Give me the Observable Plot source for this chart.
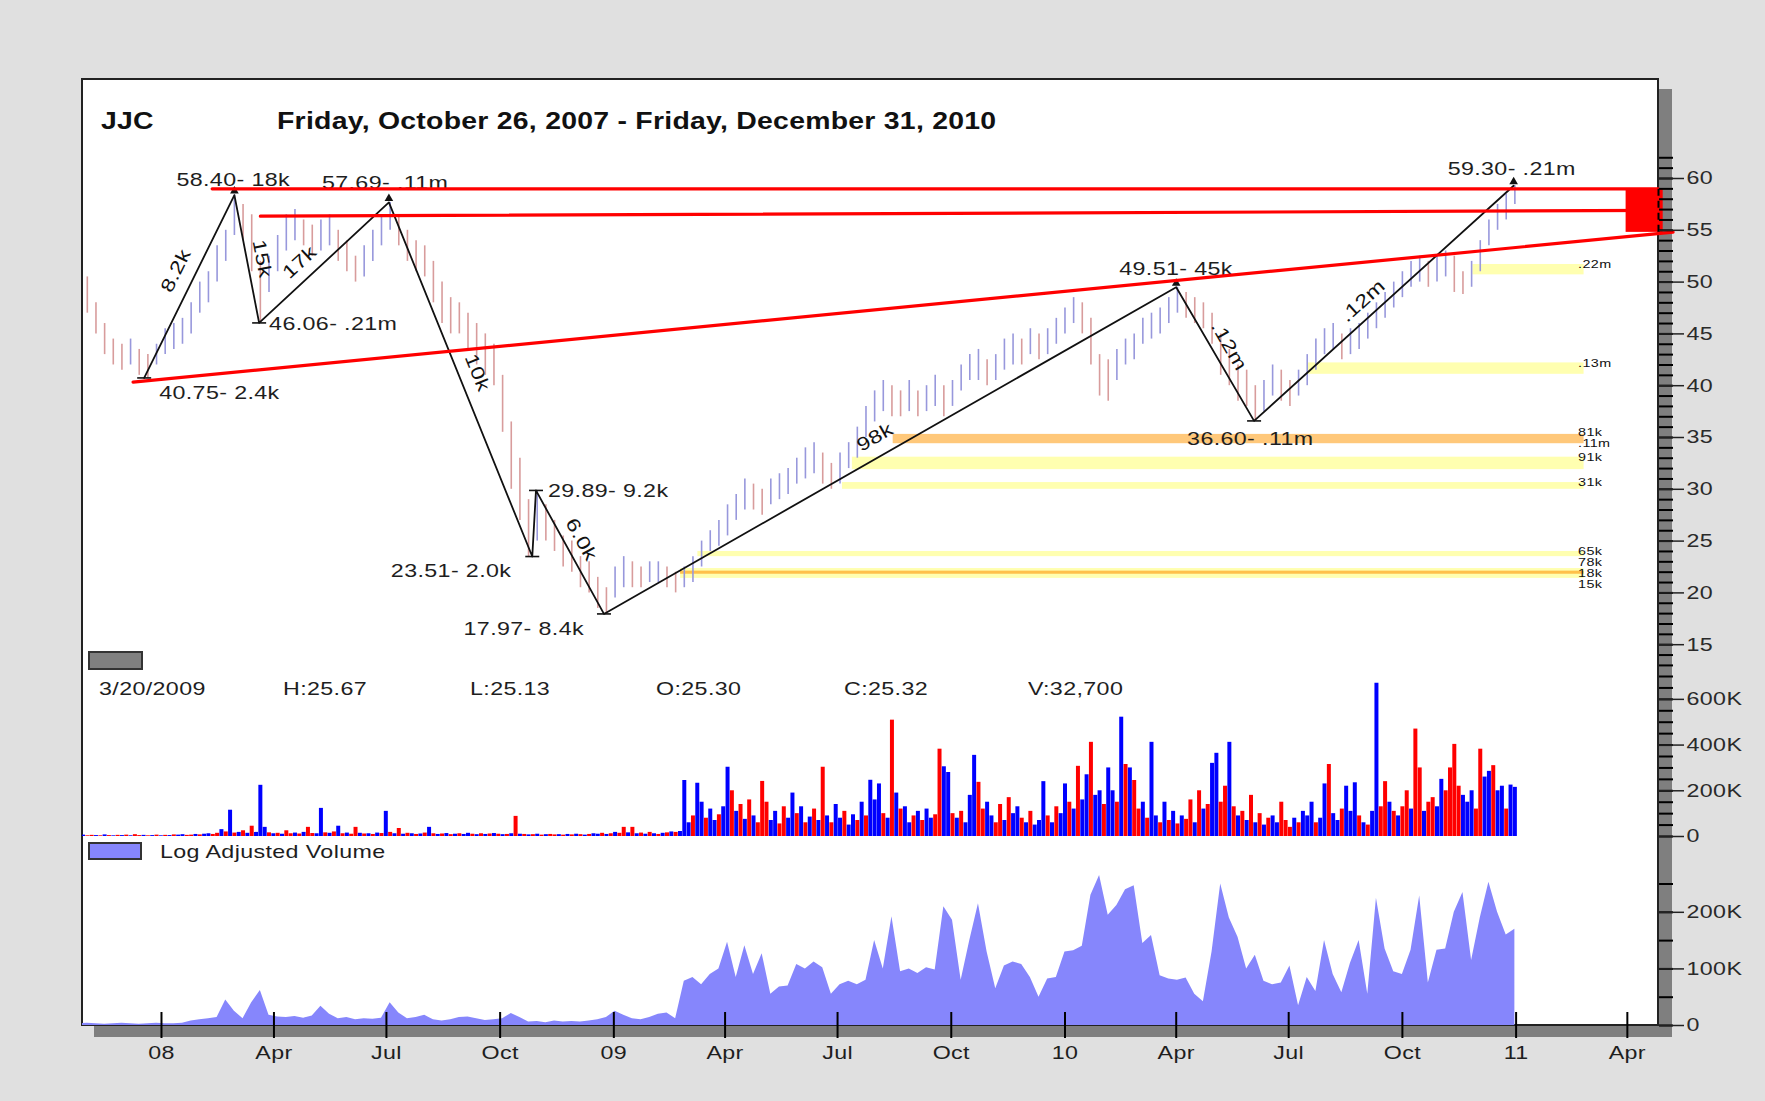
<!DOCTYPE html>
<html>
<head>
<meta charset="utf-8">
<script src="https://cdn.jsdelivr.net/npm/d3@7"></script>
<script src="https://cdn.jsdelivr.net/npm/@observablehq/plot@0.6"></script>
<style>
html,body{margin:0;padding:0;background:#e0e0e0;}
#wrap{position:relative;width:1765px;height:1101px;overflow:hidden;background:#e0e0e0;font-family:"Liberation Sans",Arial,sans-serif;}
#panel{position:absolute;left:81px;top:78px;width:1578px;height:948px;box-sizing:border-box;background:#fff;border:2px solid #222;box-shadow:13px 11px 0 #7f7f7f;}
.layer{position:absolute;left:0;}
.txt{position:absolute;white-space:nowrap;line-height:1;color:#1e1e1e;font-size:18.6px;letter-spacing:0.3px;transform:scaleX(1.25);transform-origin:0 50%;}
.bold{font-weight:bold;font-size:23.3px;letter-spacing:0.2px;color:#111;transform:scaleX(1.22);}
.box{position:absolute;box-sizing:border-box;border:2px solid #333;}
</style>
</head>
<body>
<div id="wrap">
  <div id="panel"></div>
  <div id="l1" class="layer" style="top:79px"></div>
  <div id="l2" class="layer" style="top:676px"></div>
  <div id="l3" class="layer" style="top:840px"></div>
</div>
<script>
// ---------------- DATA ----------------
const symbol = "JJC";
const titleText = "Friday, October 26, 2007 - Friday, December 31, 2010";

// weekly price range (weeks starting Fri Oct 26, 2007)
const weekHigh = [
51,50.5,48,46,44.5,44,44.5,43.5,43,44,
45.5,46,46.5,48,50,51,53.5,55,58.4,57.5,
56.5,52,52.5,54.5,56.5,57,56,55.5,56,56.5,
55,54,52.5,53.5,55,56.5,57.69,56.5,55,54,
53.5,52,50,48.5,48,47,46,45,44,41,
36.5,33,29,29.89,28.5,27,25.5,25,23.5,23,
21.5,20.5,22.5,23.5,23,22.5,23,23,22.5,22,
22.5,23.5,25,26,27,28.5,29.5,31,30.5,30,
31,31.5,32,33,34,34.5,33.5,32.5,33.5,34.5,
36,38,39.5,40.5,40,39.5,40.5,39.5,40,41,
40,40.5,42,43,43.5,42.5,43,44.5,45,44.5,
45.5,45,45.5,46.5,47.5,48.5,48,46.5,43,42.5,
43.5,44.5,45,46.5,47,47.5,48.5,49.51,49,48.5,
48,47,45,43.5,42,41.5,40,40.5,42,41.5,
40.5,41.5,43,44.5,45.5,46,45,45.5,46,47,
48,49,50,51,52,52.5,52,52.5,53,52.5,
51,52,54,56,57.5,58.5,59.3];
const weekLow = [
48.5,47,45,43,42,41.5,42,41,40.75,42,
43,43.5,44,45,47,48,50,52,54.5,54,
51,46.06,49,51,53,54,53.5,52.5,53,53.5,
52,51,50,50.5,52,53.5,55,53.5,52,51,
50.5,48,46,45,45,43.5,42,41,40,35.5,
30,27,23.51,25,25,24,22.5,22,20.5,20,
18.5,17.97,19.5,20.5,20.5,20.5,21,21,20.5,20,
20.5,21,22.5,24,24.5,25.5,27,28,28,27.5,
28.5,29,29.5,30.5,31,31.5,30.5,30,30.5,32,
33,35,36.5,37.5,37,37,37.5,37,37.5,38,
37,38,39.5,40.5,40.5,40,40.5,41.5,42,42,
43,42.5,43,44,45,46,45,42,39,38.5,
40.5,42,42.5,44,44.5,45,46,47,46.5,46,
45.5,44,41,40,38.5,38,36.6,37.5,39,38.5,
38,39,40,41.5,43,43.5,42.5,43,43.5,44.5,
45.5,46.5,47.5,48.5,49.5,50,49.5,50,50.5,49,
48.8,49.5,51,53.5,55,56,57.5];

// volume (thousands), two samples per week
const volK = [
4,6,3,5,4,3,7,4,3,5, 4,6,3,8,4,5,3,4,6,3, 5,4,7,6,8,5,6,9,7,10, 12,9,14,30,20,115,15,18,25,14,
45,18,224,40,16,12,14,10,25,12, 15,11,18,40,13,12,123,16,14,20, 45,12,15,10,40,14,11,12,9,15, 13,110,18,12,35,10,14,12,9,11,
15,40,12,9,11,13,8,10,12,9, 14,10,8,12,9,11,13,10,8,9, 12,88,10,9,7,8,10,6,8,9, 7,8,6,9,7,10,8,6,9,12,
10,14,9,12,18,14,40,16,40,12, 15,10,18,12,9,14,16,20,18,22, 245,60,90,233,150,80,120,70,95,130, 303,200,110,140,75,160,90,60,241,150,
70,110,55,130,80,190,100,130,60,85, 120,70,303,90,60,140,80,110,50,95, 70,150,90,246,160,230,100,80,509,190, 120,130,60,90,110,70,120,80,95,382,
305,280,100,80,110,60,180,355,237,120, 150,90,60,140,70,170,100,130,80,60, 110,50,70,240,90,60,130,100,230,150, 120,307,160,270,412,180,200,140,300,200,
150,522,315,300,245,120,150,80,412,90, 60,150,70,110,55,90,75,160,60,200, 120,140,320,364,150,220,412,130,90,110, 70,180,60,100,50,80,90,60,150,70,
40,80,60,110,90,150,60,80,230,315, 100,70,120,220,110,235,90,60,50,110, 670,130,240,150,110,90,130,200,120,470, 300,110,150,170,130,250,200,300,403,220,
180,150,200,120,382,260,285,310,200,220, 120,225,215];
const volDir = (
"rbrrbrbrbr"+"brbrrbrbrb"+"rbrbbrrbrb"+"brrbrbrbrb"+"rbbbrbrbrr"+"brbrrbbrbr"+"brbrrbrbrb"+"rbrbrbrbrb"+
"rbrbrbrbrb"+"brbrbrbrbr"+"brbrbrbrbr"+"rbrbrbrbrb"+"brbrbrrbrb"+"rbrbrbrbrb"+"bbrbbrbbrb"+"brbrbrbrrr"+
"bbrrbbrbrb"+"rbrbrbbrbb"+"rbrbbbrbrb"+"rbbrbrbbrr"+"bbrbrbbbrr"+"bbrrbrbbrb"+"rbbbrbrbbr"+"brbbrbbrbb"+
"rbrbrrbrbb"+"rbrbrbrrbr"+"brbbrrbrbr"+"brbrbrbbrr"+"rbrbbbrbbr"+"bbrbbbrbrb"+"brrbrbrrbr"+"rbrrbbrrrr"+
"bbbrrbbrbb"+"rbb").split("");

// log adjusted volume (thousands), weekly
const logVolK = [
3,4,3,2,3,4,3,2,3,4, 3,3,4,8,10,12,14,45,25,12, 40,62,18,15,14,16,13,17,34,20, 12,14,10,12,11,13,40,22,12,14,
18,10,8,10,14,15,12,9,10,12, 21,14,6,7,5,8,6,7,6,8, 10,14,25,18,12,10,14,20,22,12, 78,85,72,90,100,147,85,141,90,127,
55,68,70,108,100,112,102,55,72,78, 72,80,150,100,192,95,100,92,102,98, 210,186,80,150,215,130,65,105,112,108, 85,50,82,85,130,132,140,230,265,195,
212,240,247,145,159,88,82,80,84,55, 42,130,250,190,156,100,124,78,72,75, 105,35,85,60,150,90,58,110,150,55, 225,135,95,90,133,229,75,133,135,200,
235,115,190,253,200,160,170];

// zigzag pivots
const pivotDates = ["2007-12-18","2008-02-29","2008-03-20","2008-07-03","2008-10-27","2008-10-30","2008-12-24","2010-04-01","2010-06-03","2010-12-30"];
const pivotPrices = [40.75,58.40,46.06,57.69,23.51,29.89,17.97,49.51,36.60,59.30];
const pivotVols = ["2.4k","18k",".21m",".11m","2.0k","9.2k","8.4k","45k",".11m",".21m"];
const segVols = ["8.2k","15k","17k","10k","","6.0k","98k",".12m",".12m"];

// red trend / resistance lines: [start date, price, end date, price]
const redLines = [
  ["2008-02-11",59.0,"2011-04-26",59.0],
  ["2008-03-21",56.36,"2011-04-26",56.92],
  ["2007-12-09",40.34,"2011-05-08",54.82]
];
const zone = ["2011-03-31","2011-04-30",54.8,59.0];

// support bands: start date, low, high, strength
const bandStart = ["2010-11-27","2010-07-17","2009-08-15","2009-07-13","2009-07-05","2009-03-10","2009-02-24","2009-02-24"];
const bandLow   = [50.7,41.1,34.4,31.9,30.0,23.5,21.4,21.8];
const bandHigh  = [51.7,42.2,35.3,33.1,30.65,24.0,22.35,22.1];
const bandKind  = ["weak","weak","strong","weak","weak","weak","weak","core"];
const bandEnd = "2011-02-25";
const bandLabels = [".22m",".13m","81k",".11m","91k","31k","65k","78k","18k","15k"];
const bandLabelPrice = [51.7,42.2,35.5,34.45,33.1,30.65,24.0,22.95,21.9,20.85];

// info line
const infoItems = ["3/20/2009","H:25.67","L:25.13","O:25.30","C:25.32","V:32,700"];
const legendText = "Log Adjusted Volume";

// axis ticks
const xTickDates = ["2008-01-01","2008-04-01","2008-07-01","2008-10-01","2009-01-01","2009-04-01","2009-07-01","2009-10-01","2010-01-01","2010-04-01","2010-07-01","2010-10-01","2011-01-01","2011-04-01"];
const xTickLabels = ["08","Apr","Jul","Oct","09","Apr","Jul","Oct","10","Apr","Jul","Oct","11","Apr"];
const priceMajor = [15,20,25,30,35,40,45,50,55,60];
const volMajor = [0,200000,400000,600000];
const logMajor = [0,100000,200000];

// ---------------- BUILD ----------------
const DAY = 864e5;
const D = s => new Date(s + "T00:00:00Z");
const t0 = Date.UTC(2007, 9, 26);
const weeks = weekHigh.map((h, i) => ({date: new Date(t0 + i*7*DAY), high: h, low: weekLow[i]}));
weeks.forEach((w, i) => { w.up = i === 0 ? true : (w.high + w.low) >= (weeks[i-1].high + weeks[i-1].low); });
const vols = volK.map((v, j) => ({date: new Date(t0 + j*3.5*DAY), v: v*1000, dir: volDir[j]}));
const logs = logVolK.map((v, i) => ({date: new Date(t0 + i*7*DAY), v: v*1000}));
const pivots = pivotDates.map((d, i) => ({date: D(d), price: pivotPrices[i], vol: pivotVols[i]}));
const lines = redLines.map(([a, pa, b, pb], k) => [{date: D(a), price: pa, k}, {date: D(b), price: pb, k}]).flat();
const bands = bandStart.map((s, i) => ({x1: D(s), x2: D(bandEnd), y1: bandLow[i], y2: bandHigh[i], kind: bandKind[i]}));
const bLabels = bandLabels.map((t, i) => ({date: D(bandEnd), price: bandLabelPrice[i], text: t}));
const xTicks = xTickDates.map(D);
const xLabelOf = new Map(xTicks.map((d, i) => [+d, xTickLabels[i]]));

// layout
const W = 1765, ML = 82, MR = 107;
const xDomain = [new Date("2007-10-29T02:24:00Z"), new Date("2011-04-26T05:00:00Z")];
const xOpt = {type: "utc", domain: xDomain, axis: null, label: null};
const styleBase = {background: "transparent", overflow: "visible", fontFamily: "'Liberation Sans', Arial, sans-serif", fontSize: "18.6px", letterSpacing: "0.3px", color: "#1e1e1e"};
const PH = 597, priceDomain = [11.93, 69.556];
const kFmt = v => v === 0 ? "0" : (v/1000) + "K";
const bandColor = {weak: "#ffffb0", strong: "#ffc87a", core: "#ffc04a"};
const TEXT_STRETCH = 1.25;
function stretchText(svg) {
  svg.querySelectorAll("text").forEach(t => {
    t.setAttribute("transform", (t.getAttribute("transform") || "") + ` scale(${TEXT_STRETCH},1)`);
  });
  return svg;
}

const base = {width: W, marginLeft: ML, marginRight: MR, marginTop: 0, style: styleBase, color: {type: "identity"}};

// probe to get scales for label geometry
const probe = Plot.plot({...base, height: PH, marginBottom: 0, x: xOpt, y: {domain: priceDomain, axis: null, label: null},
  marks: [Plot.dot(pivots, {x: "date", y: "price", r: 0})]});
const sx = probe.scale("x"), sy = probe.scale("y");
const segLayout = [[.54,19],[.52,15],[.40,17],[.50,18],null,[.46,16],[.49,19],[.50,16],[.46,16]];
const segLabels = [];
segVols.forEach((t, i) => {
  if (!t) return;
  const a = pivots[i], b = pivots[i+1];
  const x0 = sx.apply(a.date), y0 = sy.apply(a.price), x1 = sx.apply(b.date), y1 = sy.apply(b.price);
  const dx = x1 - x0, dy = y1 - y0, len = Math.hypot(dx, dy), ux = dx/len, uy = dy/len;
  const [f, off] = segLayout[i];
  const px = x0 + dx*f + uy*off, py = y0 + dy*f - ux*off;
  segLabels.push({text: t, date: sx.invert(px), price: sy.invert(py), angle: Math.atan2(dy, dx)*180/Math.PI});
});

const pivotLayout = [
  ["start",15,15],["start",-58,-15],["start",10,1],["start",-67,-19],["end",-21,15],
  ["start",12,1],["end",-20,15],["start",-57,-18],["start",-67,18],["start",-66,-17]];
const dash = {draw(ctx) { ctx.moveTo(-7, 0); ctx.lineTo(7, 0); }};
const peakIdx = [1,3,7,9], troughIdx = [0,2,4,5,6,8];

const pricePlot = Plot.plot({...base, height: PH, marginBottom: 0, x: xOpt, y: {domain: priceDomain, axis: null, label: null},
  marks: [
    Plot.rect(bands, {x1: "x1", x2: "x2", y1: "y1", y2: "y2", fill: d => bandColor[d.kind]}),
    Plot.ruleX(weeks, {x: "date", y1: "low", y2: "high", stroke: d => d.up ? "#9898dc" : "#d89c9c", strokeWidth: 1.6, clip: true}),
    Plot.line(pivots, {x: "date", y: "price", stroke: "#111", strokeWidth: 1.8}),
    Plot.dot(peakIdx.map(i => pivots[i]), {x: "date", y: "price", symbol: "triangle", r: 3.2, fill: "#111", dy: -4}),
    Plot.dot(troughIdx.map(i => pivots[i]), {x: "date", y: "price", symbol: dash, r: 4, stroke: "#111", strokeWidth: 1.6, fill: "none"}),
    ...pivots.map((p, i) => Plot.text([p], {x: "date", y: "price", text: d => d.price.toFixed(2) + "- " + d.vol,
      textAnchor: pivotLayout[i][0], dx: pivotLayout[i][1], dy: pivotLayout[i][2], lineAnchor: "middle", fill: "#1e1e1e"})),
    Plot.text(segLabels, {x: "date", y: "price", text: "text", rotate: "angle", textAnchor: "middle", lineAnchor: "middle", fill: "#111"}),
    Plot.text(bLabels, {x: "date", y: "price", text: "text", textAnchor: "start", lineAnchor: "middle", dx: -6, fontSize: 11.5, fill: "#111"}),
    Plot.line(lines, {x: "date", y: "price", z: "k", stroke: "#ff0000", strokeWidth: 3.2}),
    Plot.rect([zone], {x1: d => D(d[0]), x2: d => D(d[1]), y1: d => d[2], y2: d => d[3], fill: "#ff0000"}),
    Plot.ruleX([xDomain[1]], {y1: zone[2], y2: zone[3], stroke: "#000", strokeWidth: 2, strokeDasharray: "7,5"}),
    Plot.axisY({anchor: "right", ticks: d3.range(13, 63), tickSize: 14, tickFormat: () => "", stroke: "#000", strokeWidth: 2}),
    Plot.axisY({anchor: "right", ticks: priceMajor, tickSize: 25, tickPadding: 3, stroke: "#222", strokeWidth: 1.5, fill: "#2a2a2a"})
  ]});
document.getElementById("l1").appendChild(stretchText(pricePlot));

const volPlot = Plot.plot({...base, height: 164, marginBottom: 4, x: xOpt, y: {domain: [0, 700000], axis: null, label: null},
  marks: [
    Plot.ruleX(vols, {x: "date", y1: 0, y2: "v", stroke: d => d.dir === "b" ? "#0000ff" : "#ff0000", strokeWidth: 4, clip: true}),
    Plot.axisY({anchor: "right", ticks: d3.range(0, 700001, 50000), tickSize: 14, tickFormat: () => "", stroke: "#000", strokeWidth: 2}),
    Plot.axisY({anchor: "right", ticks: volMajor, tickSize: 25, tickPadding: 3, tickFormat: kFmt, stroke: "#222", strokeWidth: 1.5, fill: "#2a2a2a"})
  ]});
document.getElementById("l2").appendChild(stretchText(volPlot));

const logMax = 326900;
const logPlot = Plot.plot({...base, height: 261, marginBottom: 76, x: {...xOpt}, y: {domain: [0, logMax], axis: null, label: null},
  marks: [
    Plot.areaY(logs, {x: "date", y: "v", fill: "#8686fc", clip: true}),
    Plot.axisY({anchor: "right", ticks: d3.range(0, 250001, 50000), tickSize: 14, tickFormat: () => "", stroke: "#000", strokeWidth: 2}),
    Plot.axisY({anchor: "right", ticks: logMajor, tickSize: 25, tickPadding: 3, tickFormat: kFmt, stroke: "#222", strokeWidth: 1.5, fill: "#2a2a2a"}),
    Plot.ruleX(xTicks, {insetTop: 185 - 13, stroke: "#000", strokeWidth: 2}),
    Plot.axisX({ticks: xTicks, tickFormat: d => xLabelOf.get(+d), tickSize: 13, tickPadding: 7, stroke: "#000", strokeWidth: 2, fill: "#1e1e1e"})
  ]});
document.getElementById("l3").appendChild(stretchText(logPlot));

// HTML text overlays
const wrap = document.getElementById("wrap");
function addText(str, left, centerY, cls, fs) {
  const el = document.createElement("div");
  el.className = "txt " + (cls || "");
  el.textContent = str;
  el.style.left = left + "px";
  el.style.top = (centerY - 0.49*fs) + "px";
  wrap.appendChild(el);
}
function addBox(left, top, w, h, fill) {
  const el = document.createElement("div");
  el.className = "box";
  Object.assign(el.style, {left: left+"px", top: top+"px", width: w+"px", height: h+"px", background: fill});
  wrap.appendChild(el);
}
addText(symbol, 101, 121, "bold", 23.3);
addText(titleText, 277, 121, "bold", 23.3);
addBox(88, 651, 55, 19, "#808080");
const infoX = [99, 283, 470, 656, 844, 1028];
infoItems.forEach((s, i) => addText(s, infoX[i], 689, "", 18.6));
addBox(88, 842, 54, 18, "#8686fc");
addText(legendText, 160, 852, "", 18.6);
</script>
</body>
</html>
